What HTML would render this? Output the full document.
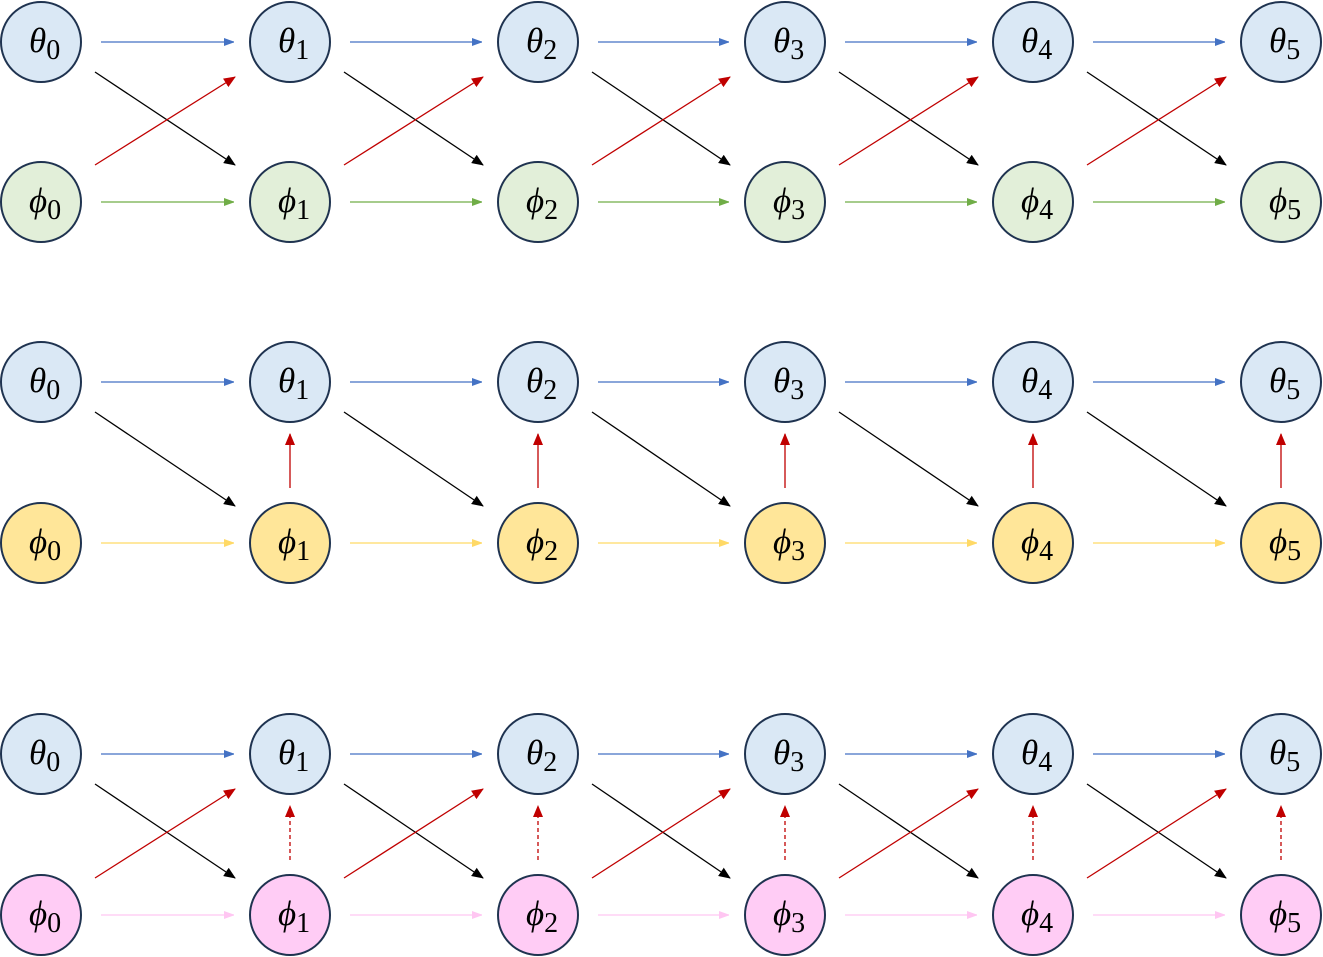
<!DOCTYPE html>
<html><head><meta charset="utf-8"><style>
html,body{margin:0;padding:0;background:#fff;width:1323px;height:957px;overflow:hidden}
svg{display:block}
.l{font-family:"Liberation Serif",serif;font-size:35px}
.l tspan.s{font-style:normal;font-size:28px}
</style></head><body>
<svg id="s" width="1323" height="957" viewBox="0 0 1323 957" xmlns="http://www.w3.org/2000/svg">
<defs>
<marker id="mb" markerWidth="10" markerHeight="8" refX="10" refY="4" orient="auto" markerUnits="userSpaceOnUse"><path d="M0,0L11,4L0,8z" fill="#4472c4"/></marker>
<marker id="mg" markerWidth="10" markerHeight="8" refX="10" refY="4" orient="auto" markerUnits="userSpaceOnUse"><path d="M0,0L11,4L0,8z" fill="#70ad47"/></marker>
<marker id="my" markerWidth="10" markerHeight="8" refX="10" refY="4" orient="auto" markerUnits="userSpaceOnUse"><path d="M0,0L11,4L0,8z" fill="#ffd966"/></marker>
<marker id="mp" markerWidth="10" markerHeight="8" refX="10" refY="4" orient="auto" markerUnits="userSpaceOnUse"><path d="M0,0L11,4L0,8z" fill="#ffc6f2"/></marker>
<marker id="mr" markerWidth="12" markerHeight="10" refX="11" refY="5" orient="auto" markerUnits="userSpaceOnUse"><path d="M0,0L12,5L0,10z" fill="#c00000"/></marker>
<marker id="mk" markerWidth="12" markerHeight="10" refX="11" refY="5" orient="auto" markerUnits="userSpaceOnUse"><path d="M0,0L12,5L0,10z" fill="#000"/></marker>
</defs>
<g id="lines"></g>
<g id="nodes"></g>
<g class="l" fill="#000">
<text x="29" y="52"><tspan font-style="italic">θ</tspan><tspan class="s" dy="7">0</tspan></text>
<text x="278" y="52"><tspan font-style="italic">θ</tspan><tspan class="s" dy="7">1</tspan></text>
<text x="526" y="52"><tspan font-style="italic">θ</tspan><tspan class="s" dy="7">2</tspan></text>
<text x="773" y="52"><tspan font-style="italic">θ</tspan><tspan class="s" dy="7">3</tspan></text>
<text x="1021" y="52"><tspan font-style="italic">θ</tspan><tspan class="s" dy="7">4</tspan></text>
<text x="1269" y="52"><tspan font-style="italic">θ</tspan><tspan class="s" dy="7">5</tspan></text>
<text x="29" y="212"><tspan font-style="italic">ϕ</tspan><tspan class="s" dy="7">0</tspan></text>
<text x="278" y="212"><tspan font-style="italic">ϕ</tspan><tspan class="s" dy="7">1</tspan></text>
<text x="526" y="212"><tspan font-style="italic">ϕ</tspan><tspan class="s" dy="7">2</tspan></text>
<text x="773" y="212"><tspan font-style="italic">ϕ</tspan><tspan class="s" dy="7">3</tspan></text>
<text x="1021" y="212"><tspan font-style="italic">ϕ</tspan><tspan class="s" dy="7">4</tspan></text>
<text x="1269" y="212"><tspan font-style="italic">ϕ</tspan><tspan class="s" dy="7">5</tspan></text>
<text x="29" y="392"><tspan font-style="italic">θ</tspan><tspan class="s" dy="7">0</tspan></text>
<text x="278" y="392"><tspan font-style="italic">θ</tspan><tspan class="s" dy="7">1</tspan></text>
<text x="526" y="392"><tspan font-style="italic">θ</tspan><tspan class="s" dy="7">2</tspan></text>
<text x="773" y="392"><tspan font-style="italic">θ</tspan><tspan class="s" dy="7">3</tspan></text>
<text x="1021" y="392"><tspan font-style="italic">θ</tspan><tspan class="s" dy="7">4</tspan></text>
<text x="1269" y="392"><tspan font-style="italic">θ</tspan><tspan class="s" dy="7">5</tspan></text>
<text x="29" y="553"><tspan font-style="italic">ϕ</tspan><tspan class="s" dy="7">0</tspan></text>
<text x="278" y="553"><tspan font-style="italic">ϕ</tspan><tspan class="s" dy="7">1</tspan></text>
<text x="526" y="553"><tspan font-style="italic">ϕ</tspan><tspan class="s" dy="7">2</tspan></text>
<text x="773" y="553"><tspan font-style="italic">ϕ</tspan><tspan class="s" dy="7">3</tspan></text>
<text x="1021" y="553"><tspan font-style="italic">ϕ</tspan><tspan class="s" dy="7">4</tspan></text>
<text x="1269" y="553"><tspan font-style="italic">ϕ</tspan><tspan class="s" dy="7">5</tspan></text>
<text x="29" y="764"><tspan font-style="italic">θ</tspan><tspan class="s" dy="7">0</tspan></text>
<text x="278" y="764"><tspan font-style="italic">θ</tspan><tspan class="s" dy="7">1</tspan></text>
<text x="526" y="764"><tspan font-style="italic">θ</tspan><tspan class="s" dy="7">2</tspan></text>
<text x="773" y="764"><tspan font-style="italic">θ</tspan><tspan class="s" dy="7">3</tspan></text>
<text x="1021" y="764"><tspan font-style="italic">θ</tspan><tspan class="s" dy="7">4</tspan></text>
<text x="1269" y="764"><tspan font-style="italic">θ</tspan><tspan class="s" dy="7">5</tspan></text>
<text x="29" y="925"><tspan font-style="italic">ϕ</tspan><tspan class="s" dy="7">0</tspan></text>
<text x="278" y="925"><tspan font-style="italic">ϕ</tspan><tspan class="s" dy="7">1</tspan></text>
<text x="526" y="925"><tspan font-style="italic">ϕ</tspan><tspan class="s" dy="7">2</tspan></text>
<text x="773" y="925"><tspan font-style="italic">ϕ</tspan><tspan class="s" dy="7">3</tspan></text>
<text x="1021" y="925"><tspan font-style="italic">ϕ</tspan><tspan class="s" dy="7">4</tspan></text>
<text x="1269" y="925"><tspan font-style="italic">ϕ</tspan><tspan class="s" dy="7">5</tspan></text>
</g>
</svg>
<script>
var NS="http://www.w3.org/2000/svg";
var xs=[41,290,538,785,1033,1281];
var rows=[{t:42,p:202,pf:"#e2efd9",pc:"#70ad47",pm:"mg",red:"cross"},
{t:382,p:543,pf:"#ffe699",pc:"#ffd966",pm:"my",red:"vert"},
{t:754,p:915,pf:"#ffccf5",pc:"#ffc6f2",pm:"mp",red:"both"}];
var L=document.getElementById("lines"),N=document.getElementById("nodes");
function ln(x1,y1,x2,y2,c,m,dash){var e=document.createElementNS(NS,"line");
e.setAttribute("x1",x1);e.setAttribute("y1",y1);e.setAttribute("x2",x2);e.setAttribute("y2",y2);
e.setAttribute("stroke",c);e.setAttribute("stroke-width",1.3);e.setAttribute("marker-end","url(#"+m+")");
if(dash)e.setAttribute("stroke-dasharray","4,3");L.appendChild(e);}
function ci(x,y,f){var e=document.createElementNS(NS,"circle");e.setAttribute("cx",x);e.setAttribute("cy",y);e.setAttribute("r",40);
e.setAttribute("fill",f);e.setAttribute("stroke","#1f3350");e.setAttribute("stroke-width",2);N.appendChild(e);}
rows.forEach(function(r){
for(var i=0;i<6;i++){ci(xs[i],r.t,"#dae8f5");ci(xs[i],r.p,r.pf);}
for(var i=0;i<5;i++){var a=xs[i],b=xs[i+1];
ln(a+60,r.t,b-56,r.t,"#4472c4","mb");
ln(a+60,r.p,b-56,r.p,r.pc,r.pm);
ln(a+54,r.t+30,b-55,r.p-37,"#000","mk");
if(r.red!="vert")ln(a+54,r.p-37,b-55,r.t+35,"#c00000","mr");
if(r.red!="cross")ln(b,r.p-55,b,r.t+52,"#c00000","mr",r.red=="both");}
});
</script>
</body></html>
